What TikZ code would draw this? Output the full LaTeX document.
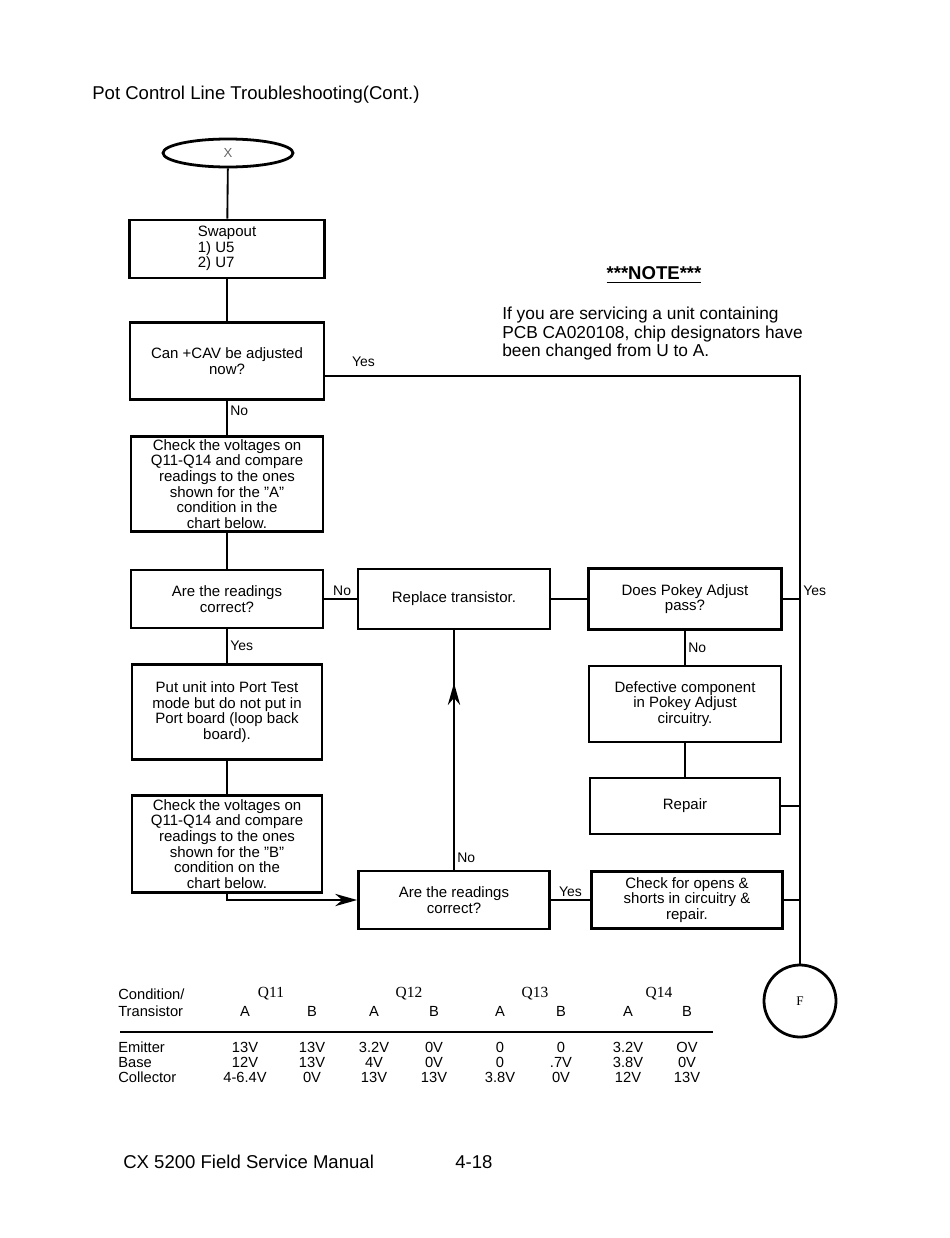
\documentclass[tikz,border=0pt]{standalone}
\usepackage{fontspec}
\setmainfont{Liberation Sans}
\newfontfamily\serifhead{Liberation Serif}
\usetikzlibrary{arrows.meta, decorations.markings, shapes.geometric, calc, positioning}
\newcommand{\pxu}{0.2273mm}
\tikzset{
    chartbox/.style={rectangle, draw, line width=1.8pt, align=center, inner sep=2pt, font=\fontsize{9.7}{10.1}\selectfont},
    connector/.style={line width=1.2pt},
    flowArrow/.style={-{Stealth[length=5mm, width=2.8mm]}, line width=1.2pt},
    midArrow/.style={line width=1.2pt, postaction={decorate}, decoration={markings, mark=at position #1 with {\arrow{Stealth[length=5mm, width=2.8mm]}}}},
    lbl/.style={font=\fontsize{9}{10}\selectfont, inner sep=1.5pt},
    tbl/.style={font=\fontsize{9.5}{10}\selectfont, inner sep=0pt, text height=1.6ex, text depth=0.4ex},
    pagetext/.style={anchor=west, inner sep=0pt, font=\fontsize{12}{13}\selectfont},
    terminal/.style={draw, line width=1.8pt, inner sep=0pt, font=\fontsize{8.5}{9}\selectfont},
}
\newcommand{\chartBox}[5]{
    \node[chartbox, minimum width=#3*\pxu, minimum height=#4*\pxu] (#1) at (#2) {#5};
}

\begin{document}
\begin{tikzpicture}[x=\pxu, y=-\pxu]
    \useasboundingbox (0,0) rectangle (950,1238);

    \node[pagetext] (title) at (92,95) {Pot Control Line Troubleshooting(Cont.)};

    \node[terminal, ellipse, minimum width=130*\pxu, minimum height=28*\pxu, text=black!60] (X) at (228,153) {X};
    \node[terminal, circle, minimum size=72*\pxu] (F) at (800,1001) {\serifhead F};

    \chartBox{swap}{227,249}{195}{58}{\begin{tabular}{@{}l@{}}Swapout\\1) U5\\2) U7\end{tabular}}
    \chartBox{cav}{227,361}{194}{77}{\fontsize{9.7}{8.8}\selectfont Can +CAV be adjusted\\now?}
    \chartBox{chkA}{227,484}{192}{95}{Check the voltages on\\Q11-Q14 and compare\\readings to the ones\\shown for the "A"\\condition in the\\chart below.}
    \chartBox{rdA}{227,599}{192}{58}{Are the readings\\correct?}
    \chartBox{port}{227,712}{190}{95}{Put unit into Port Test\\mode but do not put in\\Port board (loop back\\board).}
    \chartBox{chkB}{227,844}{190}{97}{Check the voltages on\\Q11-Q14 and compare\\readings to the ones\\shown for the "B"\\condition on the\\chart below.}
    \chartBox{repl}{454,599}{192}{60}{Replace transistor.}
    \chartBox{rdB}{454,900}{191}{58}{Are the readings\\correct?}
    \chartBox{pokey}{685,599}{193}{61}{Does Pokey Adjust\\pass?}
    \chartBox{defect}{685,704}{192}{76}{Defective component\\in Pokey Adjust\\circuitry.}
    \chartBox{repair}{685,806}{190}{56}{Repair}
    \chartBox{opens}{687,900}{191}{57}{Check for opens \&\\shorts in circuitry \&\\repair.}

    \node[font=\bfseries\fontsize{12}{13}\selectfont] (noteHead) at (654,275) {\underline{***NOTE***}};
    \node[anchor=north west, align=left, inner sep=0pt, font=\fontsize{11.2}{11.8}\selectfont] (noteText) at (502,307) {If you are servicing a unit containing\\PCB CA020108, chip designators have\\been changed from U to A.};

    \draw[connector] (X) -- (swap);
    \draw[connector] (swap) -- (cav);
    \draw[connector] (cav) -- node[lbl, right, pos=0.3] {No} (chkA);
    \draw[connector] (chkA) -- (rdA);
    \draw[connector] (rdA) -- node[lbl, right] {Yes} (port);
    \draw[connector] (port) -- (chkB);
    \draw[flowArrow] (chkB.south) |- (rdB.west);
    \draw[connector] (rdA) -- node[lbl, above, pos=0.55] {No} (repl);
    \draw[connector] (repl) -- (pokey);
    \draw[connector] (pokey) -- node[lbl, right] {No} (defect);
    \draw[connector] (defect) -- (repair);
    \draw[midArrow=0.78] (rdB) -- node[lbl, right, pos=0.05] {No} (repl);
    \draw[connector] (rdB) -- node[lbl, above] {Yes} (opens);

    \coordinate (yesTop) at (800,376);
    \draw[connector] (cav.east |- yesTop) -- node[lbl, above=4pt, pos=0.08] {Yes} (yesTop) -- (F);
    \draw[connector] (pokey.east) -- (pokey.east -| yesTop) node[lbl, above right] {Yes};
    \draw[connector] (repair.east) -- (repair.east -| yesTop);
    \draw[connector] (opens.east) -- (opens.east -| yesTop);

    % voltage chart
    \node[tbl, anchor=west] (cond) at (118,995) {Condition/};
    \node[tbl, anchor=west] (trans) at (118,1012) {Transistor};
    \foreach \x/\q in {271/Q11, 409/Q12, 535/Q13, 659/Q14}
        \node[tbl, font=\serifhead\fontsize{10}{10}\selectfont] (head\q) at (\x,993) {\q};
    \foreach \x/\c in {245/A, 312/B, 374/A, 434/B, 500/A, 561/B, 628/A, 687/B}
        \node[tbl] at (\x,1012) {\c};
    \coordinate (ruleL) at (120,1032);
    \coordinate (ruleR) at (713,1032);
    \draw[line width=1.3pt] (ruleL) -- (ruleR);

    \node[tbl, anchor=west] (emitter) at (118,1048) {Emitter};
    \node[tbl, anchor=west] (base) at (118,1063) {Base};
    \node[tbl, anchor=west] (collector) at (118,1078) {Collector};
    \foreach \x/\v in {245/13V, 312/13V, 374/3.2V, 434/0V, 500/0, 561/0, 628/3.2V, 687/OV}
        \node[tbl] at (\x,1048) {\v};
    \foreach \x/\v in {245/12V, 312/13V, 374/4V, 434/0V, 500/0, 561/.7V, 628/3.8V, 687/0V}
        \node[tbl] at (\x,1063) {\v};
    \foreach \x/\v in {245/4-6.4V, 312/0V, 374/13V, 434/13V, 500/3.8V, 561/0V, 628/12V, 687/13V}
        \node[tbl] at (\x,1078) {\v};

    \node[pagetext] (manual) at (123,1162) {CX 5200 Field Service Manual};
    \node[pagetext] (page) at (455,1162) {4-18};
\end{tikzpicture}
\end{document}
